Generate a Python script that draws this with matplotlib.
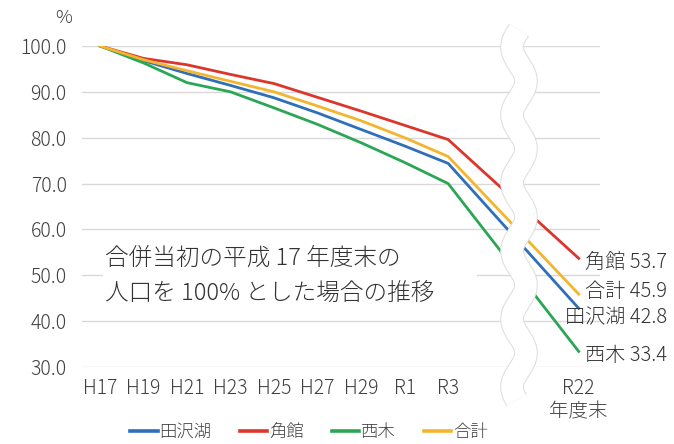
"""Population trend after the 2005 merger, indexed to 100 at end of H17."""

import matplotlib

matplotlib.use("Agg")
import matplotlib.pyplot as plt
import numpy as np
from matplotlib import patheffects
from matplotlib.lines import Line2D
from matplotlib.patches import Rectangle

plt.rcParams["font.family"] = ["Noto Sans CJK JP", "DejaVu Sans"]
plt.rcParams["font.weight"] = "light"

# category labels; R22 sits after the axis break
YEARS = ["H17", "H19", "H21", "H23", "H25", "H27", "H29", "R1", "R3", "R22\n年度末"]
NAMES = ["田沢湖", "角館", "西木", "合計"]
TAZAWAKO = [100.0, 96.8, 94.0, 91.4, 88.7, 85.4, 81.8, 78.2, 74.4, 42.8]
KAKUNODATE = [100.0, 97.3, 95.9, 93.8, 91.8, 88.8, 85.8, 82.7, 79.6, 53.7]
NISHIKI = [100.0, 96.3, 92.0, 90.0, 86.5, 82.9, 78.9, 74.6, 70.0, 33.4]
TOTAL = [100.0, 97.0, 94.6, 92.3, 90.0, 86.9, 83.7, 80.0, 75.9, 45.9]

COLORS = ["#2f6fba", "#dc362c", "#2aa655", "#f4b52e"]
LABEL_DY = [-2.1, -1.0, -0.8, 0.5]  # nudges so end labels don't collide
TEXT = "#404040"

W, H = 674, 444
x_pos = list(range(0, 17, 2)) + [22]
series = [TAZAWAKO, KAKUNODATE, NISHIKI, TOTAL]

fig = plt.figure(figsize=(W / 100, H / 100), dpi=100)
ax = fig.add_axes([82 / W, 1 - 367 / H, 518 / W, 321 / H])

for name, vals, color in zip(NAMES, series, COLORS):
    ax.plot(x_pos, vals, color=color, linewidth=2.0, label=name, zorder=3)

ax.set_xlim(-0.83, 22.98)
ax.set_ylim(30, 100)
ax.set_yticks(np.arange(30, 101, 10))
ax.set_yticklabels([f"{v:.1f}" for v in np.arange(30, 101, 10)])
ax.set_xticks(x_pos)
ax.set_xticklabels(YEARS, linespacing=1.15)
ax.tick_params(axis="both", length=0, labelsize=14, labelcolor=TEXT)
ax.tick_params(axis="y", pad=11)
ax.tick_params(axis="x", pad=8)
ax.grid(axis="y", color="#d9d9d9", linewidth=1.0, zorder=0)
ax.set_axisbelow(True)
for spine in ax.spines.values():
    spine.set_visible(False)

fig.text(64 / W, 1 - 18 / H, "%", ha="center", va="center", fontsize=13.5, color=TEXT)

# white box behind the note, hides the gridline under it
box = Rectangle((103 / W, 1 - 312 / H), 374 / W, 72 / H, transform=fig.transFigure,
                facecolor="white", edgecolor="none", zorder=2)
ax.add_artist(box)
box.set_clip_on(False)
fig.text(105 / W, 1 - 276 / H, "合併当初の平成 17 年度末の\n人口を 100% とした場合の推移",
         ha="left", va="center", fontsize=17, color="#333333", linespacing=1.55, zorder=4)

# end-of-line labels, right aligned near the figure edge
for name, vals, color, dy in zip(NAMES, series, COLORS, LABEL_DY):
    ax.text(1.13, vals[-1] + dy, f"{name} {vals[-1]:.1f}", transform=ax.get_yaxis_transform(),
            ha="right", va="center", fontsize=14.5, color="#333333", clip_on=False)

# wavy break band
yy = np.linspace(30, 400, 400)
xx = 519 + 7 * np.cos(2 * np.pi * (yy - 217) / 68)
band = Line2D(xx / W, 1 - yy / H, transform=fig.transFigure, color="white", linewidth=15.5,
              solid_capstyle="butt", zorder=10)
band.set_path_effects([patheffects.Stroke(linewidth=17.0, foreground="#dedede"), patheffects.Normal()])
fig.add_artist(band)

leg = fig.legend(loc="center", bbox_to_anchor=(309 / W, 1 - 432 / H), ncol=4, frameon=False,
                 fontsize=12.5, handlelength=1.6, handletextpad=0.1, columnspacing=1.6)
for line in leg.get_lines():
    line.set_linewidth(2.6)
for text in leg.get_texts():
    text.set_color(TEXT)

fig.savefig("out.png", dpi=100)
